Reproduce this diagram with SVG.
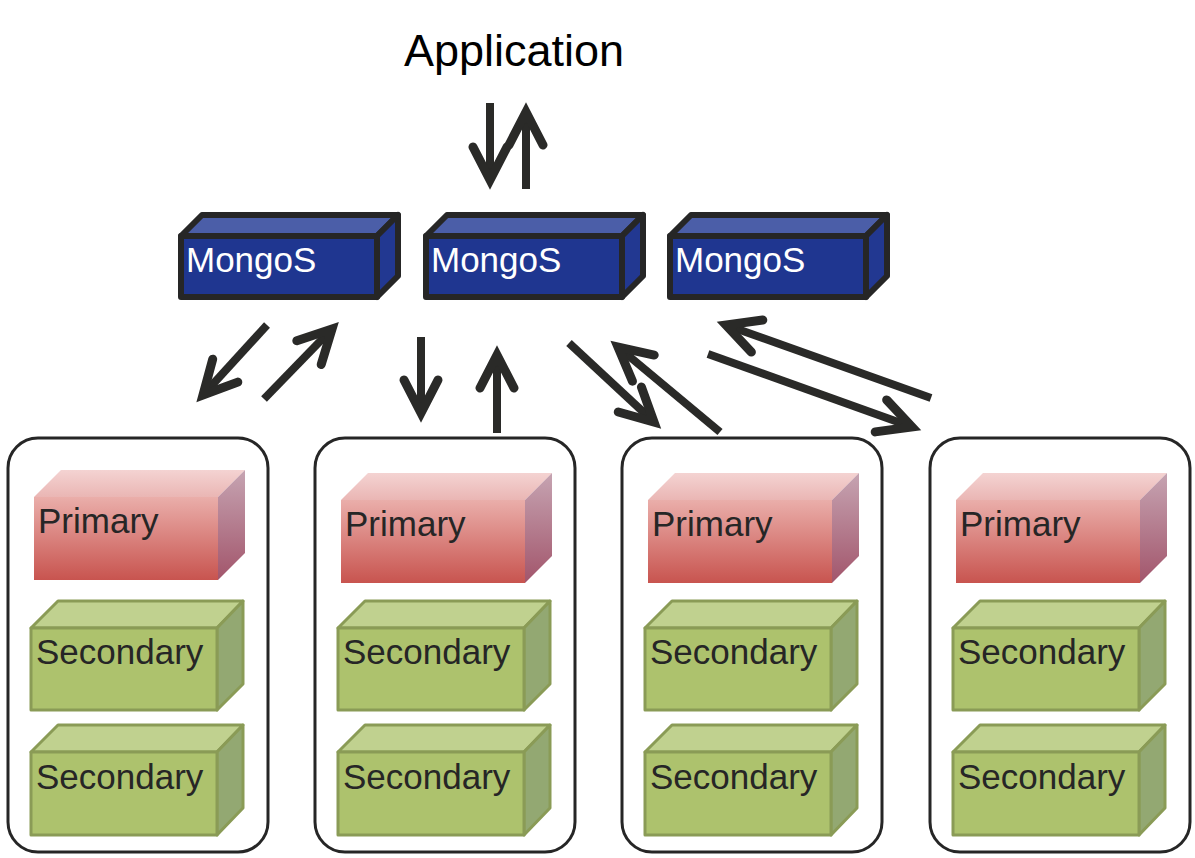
<svg xmlns="http://www.w3.org/2000/svg" width="1195" height="858" viewBox="0 0 1195 858">
<style>
text{font-family:"Liberation Sans",Arial,sans-serif;font-size:35px}
.app{font-size:45px;fill:#000}
.mtxt{fill:#fff}
.ntxt{fill:#262626}
.mg path,.mg rect{stroke:#262626;stroke-width:6;stroke-linejoin:round}
.mfront{fill:#1f3690}
.mtop{fill:#4b5ea8}
.mside{fill:#223891}
.rs{fill:#fff;stroke:#262626;stroke-width:3}
.sec path,.sec rect{stroke:#8a9b56;stroke-width:3;stroke-linejoin:round}
.sfront{fill:#adc26d}
.stop{fill:#c0d18f}
.sside{fill:#93a872}
.conn line{stroke:#2a2a28;stroke-width:8;marker-end:url(#ah)}
</style>
<defs>
<marker id="ah" markerUnits="userSpaceOnUse" orient="auto" markerWidth="80" markerHeight="80" refX="0" refY="0" viewBox="-50 -40 80 80" overflow="visible">
<path d="M-33 -17 L0 0 L-33 17" fill="none" stroke="#2a2a28" stroke-width="9" stroke-linecap="round" stroke-linejoin="miter" stroke-miterlimit="10"/>
</marker>
<linearGradient id="pf" x1="0" y1="0" x2="0" y2="1">
<stop offset="0" stop-color="#eaaeaa"/><stop offset="1" stop-color="#c8544f"/>
</linearGradient>
<linearGradient id="pt" x1="0" y1="0" x2="0" y2="1">
<stop offset="0" stop-color="#f4d3d2"/><stop offset="1" stop-color="#eab6b4"/>
</linearGradient>
<linearGradient id="ps" x1="0" y1="0" x2="0" y2="1">
<stop offset="0" stop-color="#c6a4b2"/><stop offset="1" stop-color="#a2556b"/>
</linearGradient>
<g id="prim">
<path d="M34 497 L61 470 L245 470 L218 497 Z" fill="url(#pt)"/>
<path d="M218 497 L245 470 L245 553 L218 580 Z" fill="url(#ps)"/>
<rect x="34" y="497" width="184" height="83" fill="url(#pf)"/>
<text class="ntxt" x="38" y="533">Primary</text>
</g>
<g id="secA" class="sec">
<path class="stop" d="M31 628 L58 601 L243 601 L217 628 Z"/>
<path class="sside" d="M217 628 L243 601 L243 684 L217 710 Z"/>
<rect class="sfront" x="31" y="628" width="186" height="82"/>
<text class="ntxt" x="36" y="664" stroke="none">Secondary</text>
</g>
<g id="secB" class="sec">
<path class="stop" d="M31 752 L58 725 L243 725 L217 752 Z"/>
<path class="sside" d="M217 752 L243 725 L243 808 L217 835 Z"/>
<rect class="sfront" x="31" y="752" width="186" height="83"/>
<text class="ntxt" x="36" y="789" stroke="none">Secondary</text>
</g>
<g id="mbox" class="mg">
<path class="mtop" d="M181 236 L202 215 L398 215 L377 236 Z"/>
<path class="mside" d="M377 236 L398 215 L398 276 L377 297 Z"/>
<rect class="mfront" x="181" y="236" width="196" height="61"/>
<text class="mtxt" x="186" y="272" stroke="none">MongoS</text>
</g>
</defs>

<g id="application"><text class="app" x="514" y="66" text-anchor="middle">Application</text></g>

<g id="mongos1"><use href="#mbox"/></g>
<g id="mongos2"><use href="#mbox" x="245"/></g>
<g id="mongos3"><use href="#mbox" x="489"/></g>

<g id="shard1">
<rect class="rs" x="8" y="438" width="260" height="414" rx="30"/>
<use href="#prim"/><use href="#secA"/><use href="#secB"/>
</g>
<g id="shard2" transform="translate(307,0)">
<rect class="rs" x="8" y="438" width="260" height="414" rx="30"/>
<use href="#prim" y="3"/><use href="#secA"/><use href="#secB"/>
</g>
<g id="shard3" transform="translate(614,0)">
<rect class="rs" x="8" y="438" width="260" height="414" rx="30"/>
<use href="#prim" y="3"/><use href="#secA"/><use href="#secB"/>
</g>
<g id="shard4" transform="translate(922,0)">
<rect class="rs" x="8" y="438" width="260" height="414" rx="30"/>
<use href="#prim" y="3"/><use href="#secA"/><use href="#secB"/>
</g>

<g id="connectors" class="conn">
<line x1="490" y1="103" x2="490" y2="180"/>
<line x1="526" y1="189" x2="526" y2="112"/>
<line x1="267" y1="325" x2="203" y2="395"/>
<line x1="264" y1="399" x2="332" y2="329"/>
<line x1="421" y1="337" x2="421" y2="413"/>
<line x1="497" y1="433" x2="497" y2="355"/>
<line x1="569" y1="343" x2="654" y2="422"/>
<line x1="720" y1="432" x2="618" y2="347"/>
<line x1="708" y1="354" x2="912" y2="427"/>
<line x1="931" y1="398" x2="726" y2="325"/>
</g>
</svg>
